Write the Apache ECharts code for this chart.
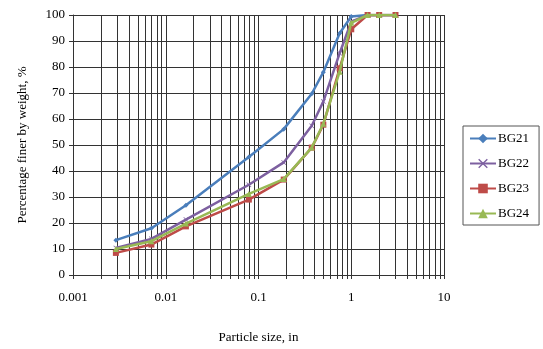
<!DOCTYPE html>
<html>
<head>
<meta charset="utf-8">
<script src="https://cdn.jsdelivr.net/npm/echarts@6/dist/echarts.min.js"></script>
<style>
html,body{margin:0;padding:0;background:#fff;}
#chart{width:543px;height:349px;}
</style>
</head>
<body>
<div id="chart"></div>
<script>
// Sieve sizes (in)
var sizes = [0.0029, 0.007, 0.0165, 0.0787, 0.187, 0.375, 0.5, 0.75, 1, 1.5, 2, 3];
var seriesNames = ['BG21', 'BG22', 'BG23', 'BG24'];
var bg21 = [13.4, 18.0, 26.8, 45.4, 56.1, 69.7, 78.0, 93.0, 99.4, 100, 100, 100];
var bg22 = [10.4, 13.9, 21.3, 34.7, 43.3, 57.4, 66.7, 85.3, 97.4, 100, 100, 100];
var bg23 = [8.5, 11.7, 18.7, 29.0, 36.7, 49.0, 57.8, 79.5, 94.5, 100, 100, 100];
var bg24 = [10.0, 13.0, 19.8, 31.2, 36.9, 49.0, 58.2, 78.2, 97.0, 100, 100, 100];
var xMajor = [0.001, 0.01, 0.1, 1, 10];
var xMinor = [0.002,0.003,0.004,0.005,0.006,0.007,0.008,0.009,
              0.02,0.03,0.04,0.05,0.06,0.07,0.08,0.09,
              0.2,0.3,0.4,0.5,0.6,0.7,0.8,0.9,
              2,3,4,5,6,7,8,9];

var colors = ['#4A7EBB', '#7D60A0', '#BE4B48', '#98B954'];
var symbols = ['diamond',
  'path://M0,1 L1,0 L5,4 L9,0 L10,1 L6,5 L10,9 L9,10 L5,6 L1,10 L0,9 L4,5 Z',
  'rect', 'triangle'];
var symbolSizes = [5, 5, 6, 6];
var allData = [bg21, bg22, bg23, bg24];
var gridColor = '#333';
var font = 'Liberation Serif';

function pairs(vals) {
  return sizes.map(function (s, i) { return [s, vals[i]]; });
}

var series = seriesNames.map(function (name, k) {
  return {
    name: name,
    type: 'line',
    data: pairs(allData[k]),
    symbol: symbols[k],
    symbolSize: symbolSizes[k],
    showSymbol: true,
    itemStyle: { color: colors[k] },
    lineStyle: { color: colors[k], width: 2.5 },
    emphasis: { disabled: true },
    z: 10 + k
  };
});

var chart = echarts.init(document.getElementById('chart'), null, { renderer: 'canvas' });
chart.setOption({
  animation: false,
  backgroundColor: '#fff',
  grid: { left: 73, right: 99, top: 15, bottom: 74, containLabel: false },
  xAxis: {
    type: 'log',
    logBase: 10,
    min: 0.001,
    max: 10,
    name: 'Particle size, in',
    nameLocation: 'middle',
    nameGap: 56,
    nameTextStyle: { fontFamily: font, fontSize: 13, color: '#000' },
    axisLine: { show: true, lineStyle: { color: gridColor, width: 1 } },
    axisTick: { show: true, length: 4, inside: false, lineStyle: { color: gridColor },
      customValues: xMajor.concat(xMinor) },
    axisLabel: { fontFamily: font, fontSize: 13, color: '#000', margin: 16,
      customValues: xMajor,
      formatter: function (v) { return String(Number(v.toPrecision(3))); } },
    splitLine: { show: true, lineStyle: { color: gridColor, width: 1 } }
  },
  yAxis: {
    type: 'value',
    min: 0,
    max: 100,
    interval: 10,
    name: 'Percentage finer by weight, %',
    nameLocation: 'middle',
    nameRotate: 90,
    nameGap: 44,
    nameTextStyle: { fontFamily: font, fontSize: 13, color: '#000' },
    axisLine: { show: true, lineStyle: { color: gridColor, width: 1 } },
    axisTick: { show: true, length: 4, inside: false, lineStyle: { color: gridColor } },
    axisLabel: { fontFamily: font, fontSize: 13, color: '#000', margin: 8 },
    splitLine: { show: true, lineStyle: { color: gridColor, width: 1 } }
  },
  legend: {
    data: seriesNames,
    orient: 'vertical',
    left: 463,
    top: 126,
    itemWidth: 26,
    itemHeight: 12,
    itemGap: 12,
    padding: [6, 10, 5, 6],
    borderColor: '#555',
    borderWidth: 1,
    textStyle: { fontFamily: font, fontSize: 13, color: '#000', padding: [0, 0, 0, -3] },
    selectedMode: false
  },
  series: series
});
</script>
</body>
</html>
